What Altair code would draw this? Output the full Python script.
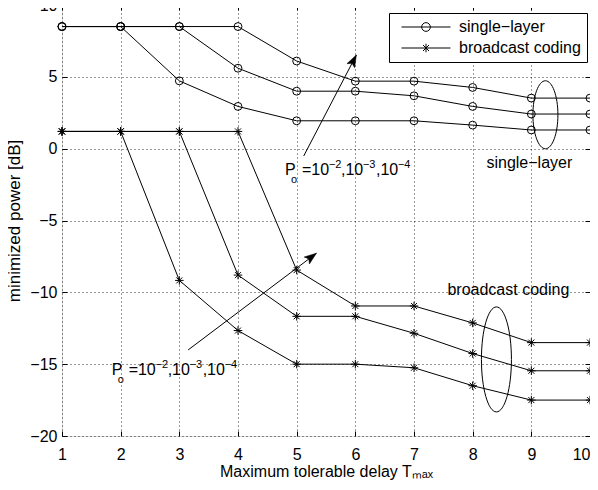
import math
import altair as alt
import pandas as pd

# ---------------- data ----------------
T = [1, 2, 3, 4, 5, 6, 7, 8, 9, 10]
single_po2 = [8.5, 8.5, 4.72, 2.94, 1.94, 1.94, 1.94, 1.64, 1.3, 1.3]
single_po3 = [8.5, 8.5, 8.5, 5.6, 4.0, 4.0, 3.68, 2.94, 2.41, 2.41]
single_po4 = [8.5, 8.5, 8.5, 8.5, 6.1, 4.7, 4.7, 4.26, 3.52, 3.52]
bc_po2 = [1.2, 1.2, -9.17, -12.66, -15.0, -15.0, -15.25, -16.5, -17.5, -17.5]
bc_po3 = [1.2, 1.2, 1.2, -8.8, -11.67, -11.67, -12.85, -14.26, -15.46, -15.46]
bc_po4 = [1.2, 1.2, 1.2, 1.2, -8.45, -10.95, -10.95, -12.13, -13.5, -13.5]
po_values = ["1e-2", "1e-3", "1e-4"]
schemes = ["single\u2212layer", "broadcast coding"]
x_ticks = [1, 2, 3, 4, 5, 6, 7, 8, 9, 10]
y_ticks = [-20, -15, -10, -5, 0, 5, 10]

# annotations (data coordinates)
arrow_x = [5.12, 3.15]
arrow_y = [-0.51, -14.01]
arrow_x2 = [6.017, 5.336]
arrow_y2 = [6.52, -7.28]
po_text_x = [4.80, 1.846]
po_text_y = [-1.83, -15.75]
note_text = ["single\u2212layer", "broadcast coding"]
note_x = [8.235, 7.57]
note_y = [-1.34, -10.19]
ellipse_x = [9.24, 8.405]
ellipse_y = [2.36, -14.67]

# ---------------- build tables ----------------
rows = []
for name, series in [(po_values[0], single_po2), (po_values[1], single_po3), (po_values[2], single_po4)]:
    for t, v in zip(T, series):
        rows.append({"T": t, "power": v, "Po": name})
single_df = pd.DataFrame(rows)
rows = []
for name, series in [(po_values[0], bc_po2), (po_values[1], bc_po3), (po_values[2], bc_po4)]:
    for t, v in zip(T, series):
        rows.append({"T": t, "power": v, "Po": name})
bc_df = pd.DataFrame(rows)

W, H = 528, 431
FONT = "Liberation Sans"
pxx = W / 9.0
pxy = H / 30.0
angles = [math.degrees(math.atan2((x2 - x1) * pxx, (y2 - y1) * pxy))
          for x1, y1, x2, y2 in zip(arrow_x, arrow_y, arrow_x2, arrow_y2)]
arrow_df = pd.DataFrame({"x": arrow_x, "y": arrow_y, "x2": arrow_x2, "y2": arrow_y2, "ang": angles})
po_df = pd.DataFrame({"x": po_text_x, "y": po_text_y})
note_df = pd.DataFrame({"x": note_x, "y": note_y, "t": note_text})
leg_df = pd.DataFrame({"T": [1, 1], "power": [0, 0], "scheme": schemes})

xs = alt.Scale(domain=[1, 10], nice=False, zero=False)
ys = alt.Scale(domain=[-20, 10], nice=False, zero=False)

grid_kw = dict(grid=True, gridColor="#000000", gridDash=[1, 3], gridOpacity=0.8, gridWidth=1)
lab_kw = dict(labelFont=FONT, labelFontSize=16, labelColor="black", titleFont=FONT,
              titleFontWeight="normal", titleColor="black")

x_main = alt.Axis(values=x_ticks, orient="bottom", title="Maximum tolerable delay T\u2098\u2090\u2093",
                  ticks=False, domain=False, labelPadding=10, titlePadding=1, labelFlush=False,
                  labelAlign=alt.expr("datum.value == 10 ? 'right' : 'center'"),
                  titleFontSize=16, **grid_kw, **lab_kw)
y_main = alt.Axis(values=y_ticks, orient="left", title="minimized power [dB]",
                  ticks=False, domain=False, labelPadding=5, titlePadding=6, labelFlush=False,
                  titleFontSize=17, **grid_kw, **lab_kw)


def tick_axis(vals, orient):
    return alt.Axis(values=vals, orient=orient, labels=False, grid=False, domain=False,
                    ticks=True, tickSize=5, offset=-5, tickColor="black", tickWidth=1, title=None)


base_s = alt.Chart(single_df)
single_lines = base_s.mark_line(color="black", strokeWidth=1).encode(
    x=alt.X("T:Q", scale=xs, axis=x_main),
    y=alt.Y("power:Q", scale=ys, axis=y_main),
    detail="Po:N",
)
single_pts = base_s.mark_point(shape="circle", size=62, filled=False, color="black",
                               strokeWidth=1, opacity=1).encode(
    x=alt.X("T:Q", scale=xs, axis=tick_axis(x_ticks, "top")),
    y=alt.Y("power:Q", scale=ys, axis=tick_axis(y_ticks, "right")),
)

base_b = alt.Chart(bc_df)
star = "M-0.85,0L0.85,0M0,-0.85L0,0.85M-0.6,-0.6L0.6,0.6M-0.6,0.6L0.6,-0.6"
bc_lines = base_b.mark_line(color="black", strokeWidth=1).encode(
    x=alt.X("T:Q", scale=xs, axis=tick_axis(x_ticks, "bottom")),
    y=alt.Y("power:Q", scale=ys, axis=tick_axis(y_ticks, "left")),
    detail="Po:N",
)
bc_pts = base_b.mark_point(shape=star, size=100, filled=False, color="black",
                           strokeWidth=1, opacity=1).encode(
    x=alt.X("T:Q", scale=xs, axis=None),
    y=alt.Y("power:Q", scale=ys, axis=None),
)

# arrows
arrow_lines = alt.Chart(arrow_df).mark_rule(color="black", strokeWidth=1).encode(
    x=alt.X("x:Q", scale=xs, axis=None), y=alt.Y("y:Q", scale=ys, axis=None),
    x2="x2:Q", y2="y2:Q",
)
head = "M0,0L-0.36,1L0,0.78L0.36,1Z"
arrow_heads = alt.Chart(arrow_df).mark_point(shape=head, size=576, filled=True, color="black",
                                             opacity=1, strokeWidth=0.5, stroke="black").encode(
    x=alt.X("x2:Q", scale=xs, axis=None), y=alt.Y("y2:Q", scale=ys, axis=None),
    angle=alt.Angle("ang:Q", scale=None),
)

# P_o = 10^-2, 10^-3, 10^-4 text pieces
pieces = [("P", 0, 0, 16), ("o", 6, 8, 11), ("=10", 17, 0, 16), ("\u22122", 44, -7, 11),
          (",10", 56, 0, 16), ("\u22123", 78, -7, 11), (",10", 91, 0, 16), ("\u22124", 113, -7, 11)]
text_layers = []
for txt, dx, dy, fs in pieces:
    text_layers.append(
        alt.Chart(po_df).mark_text(text=txt, align="left", baseline="alphabetic", dx=dx, dy=dy,
                                   font=FONT, fontSize=fs, color="black").encode(
            x=alt.X("x:Q", scale=xs, axis=None), y=alt.Y("y:Q", scale=ys, axis=None))
    )

notes = alt.Chart(note_df).mark_text(align="left", baseline="alphabetic", font=FONT,
                                     fontSize=16, color="black").encode(
    x=alt.X("x:Q", scale=xs, axis=None), y=alt.Y("y:Q", scale=ys, axis=None), text="t:N")


def ellipse_path(a):
    k = 0.5523
    return (f"M0,-1C{k*a:.4f},-1 {a:.4f},-{k} {a:.4f},0C{a:.4f},{k} {k*a:.4f},1 0,1"
            f"C-{k*a:.4f},1 -{a:.4f},{k} -{a:.4f},0C-{a:.4f},-{k} -{k*a:.4f},-1 0,-1Z")


ell_layers = []
for i, (hpx, wpx) in enumerate([(68, 25), (105, 30)]):
    d = pd.DataFrame({"x": [ellipse_x[i]], "y": [ellipse_y[i]]})
    ell_layers.append(
        alt.Chart(d).mark_point(shape=ellipse_path(wpx / hpx), size=hpx * hpx, filled=False,
                                color="black", strokeWidth=1, opacity=1).encode(
            x=alt.X("x:Q", scale=xs, axis=None), y=alt.Y("y:Q", scale=ys, axis=None))
    )

# legend
circ = ("M5.47,0C5.47,0.48 5.08,0.87 4.6,0.87C4.12,0.87 3.73,0.48 3.73,0"
        "C3.73,-0.48 4.12,-0.87 4.6,-0.87C5.08,-0.87 5.47,-0.48 5.47,0Z")
leg_single = "M-0.3,0L9.5,0" + circ
leg_bc = "M-0.3,0L9.5,0M4.6,-0.85L4.6,0.85M4.0,-0.6L5.2,0.6M4.0,0.6L5.2,-0.6"
legend_layer = alt.Chart(leg_df).transform_filter("false").mark_point(
    filled=False, color="black", opacity=1, strokeWidth=1).encode(
    x=alt.X("T:Q", scale=xs, axis=None), y=alt.Y("power:Q", scale=ys, axis=None),
    shape=alt.Shape("scheme:N", scale=alt.Scale(domain=schemes, range=[leg_single, leg_bc]),
                    legend=alt.Legend(orient="none", legendX=327, legendY=8, title=None,
                                      padding=6, symbolSize=100, symbolStrokeColor="black",
                                      symbolStrokeWidth=1, symbolFillColor="transparent",
                                      labelFont=FONT, labelFontSize=16, labelColor="black",
                                      labelOffset=48, rowPadding=5, strokeColor="black",
                                      fillColor="white", cornerRadius=0)),
)

chart = alt.layer(
    single_lines, single_pts, bc_lines, bc_pts, arrow_lines, arrow_heads,
    *text_layers, notes, *ell_layers, legend_layer,
).resolve_axis(x="independent", y="independent").properties(
    width=W, height=H,
    autosize=alt.AutoSizeParams(type="none"),
    padding={"left": 54, "top": -3, "right": 0, "bottom": 46},
).configure_view(stroke="black", strokeWidth=1).configure(background="white")

chart.save("out.html", embed_options={"renderer": "svg", "actions": False})
